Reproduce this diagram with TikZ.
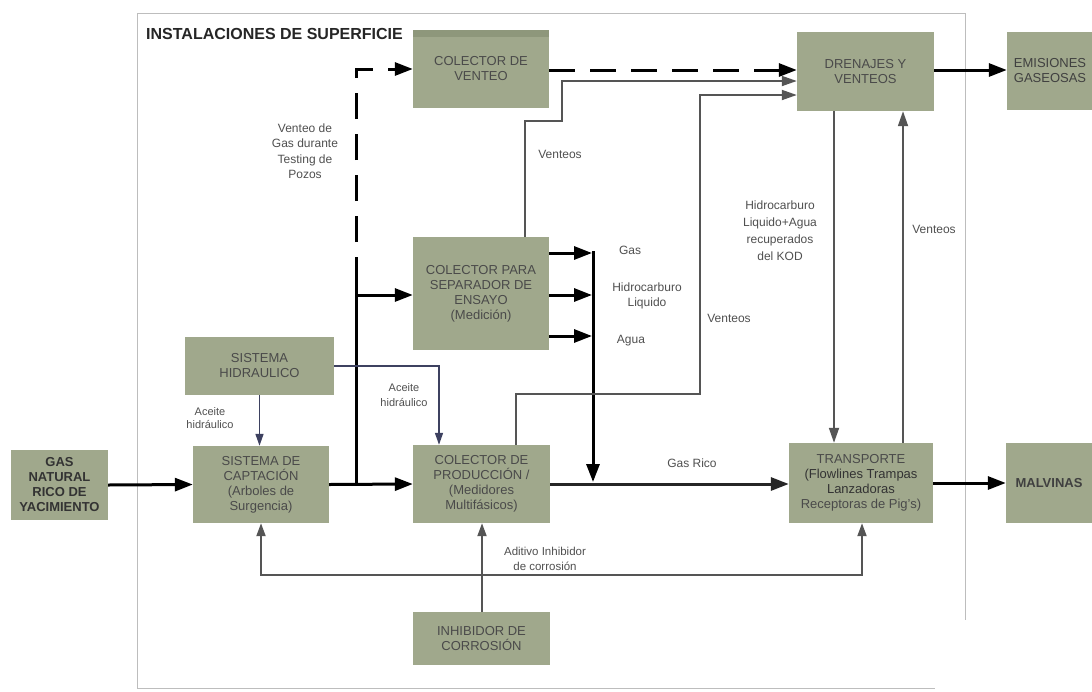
\documentclass[tikz,border=0pt]{standalone}
\usepackage{fontspec}
\setmainfont{Liberation Sans}
\usetikzlibrary{arrows.meta}
\definecolor{boxfill}{HTML}{A0A88C}
\definecolor{boxhead}{HTML}{8E977B}
\definecolor{boxtext}{HTML}{4A4A4A}
\definecolor{linegray}{HTML}{555555}
\definecolor{hydro}{HTML}{3D4160}
\definecolor{labeltext}{HTML}{505050}
\definecolor{framegray}{HTML}{BDBDBD}
\begin{document}
\begin{tikzpicture}[x=1pt,y=-1pt,
  box/.style={fill=boxfill, draw=none, inner sep=0pt, align=center, text=boxtext,
    font=\fontsize{13}{15}\selectfont},
  lbl/.style={inner sep=0pt, align=center, text=labeltext, font=\fontsize{12}{15.5}\selectfont},
  mainline/.style={line width=3pt, draw=black},
  mainflow/.style={mainline, -{Triangle[length=18pt,width=13pt]}},
  venting/.style={mainline, dash pattern=on 26pt off 15pt, -{Triangle[length=18pt,width=13pt]}},
  grayflow/.style={line width=1.8pt, draw=linegray, -{Triangle[length=15pt,width=10pt]}},
  hydroflow/.style={line width=1.5pt, draw=hydro, -{Triangle[length=12pt,width=8pt]}},
  feedflow/.style={line width=2pt, draw=linegray, -{Triangle[length=13pt,width=9pt]}}
]
\useasboundingbox (0,0) rectangle (1092,691);
\fill[white] (0,0) rectangle (1092,691);

% frame
\draw[framegray, line width=1pt] (137,688) -- (137,13) -- (965,13) -- (965,620);
\draw[framegray, line width=1pt] (137,688) -- (935,688);
\node[anchor=west, inner sep=0pt, font=\fontsize{16}{18}\bfseries\selectfont, text=black!85] (title) at (146,34) {INSTALACIONES DE SUPERFICIE};

% boxes
\node[box, minimum width=136pt, minimum height=78pt] (venteo) at (481,69) {COLECTOR DE\\VENTEO};
\fill[boxhead] (venteo.north west) rectangle ([yshift=-7pt]venteo.north east);
\node[box, minimum width=137pt, minimum height=79pt] (drenajes) at (865.5,71.5) {DRENAJES Y\\VENTEOS};
\node[box, minimum width=86pt, minimum height=78pt, text=black!75] (emisiones) at (1050,71) {EMISIONES\\GASEOSAS};
\node[box, minimum width=136pt, minimum height=113pt] (separador) at (481,293.5) {COLECTOR PARA\\SEPARADOR DE\\ENSAYO\\(Medición)};
\node[box, minimum width=149pt, minimum height=58pt] (hidraulico) at (259.5,366) {SISTEMA\\HIDRAULICO};
\node[box, minimum width=136pt, minimum height=77pt] (captacion) at (261,484.5) {SISTEMA DE\\CAPTACIÓN\\(Arboles de\\Surgencia)};
\node[box, minimum width=97pt, minimum height=70pt, text=black!80, font=\fontsize{13}{15}\bfseries\selectfont] (gasnat) at (59.5,485) {GAS\\NATURAL\\RICO DE\\YACIMIENTO};
\node[box, minimum width=137pt, minimum height=78pt] (produccion) at (481.5,484) {COLECTOR DE\\PRODUCCIÓN /\\(Medidores\\Multifásicos)};
\node[box, minimum width=137pt, minimum height=53pt] (inhibidor) at (481.5,638.5) {INHIBIDOR DE\\CORROSIÓN};
\node[box, minimum width=144pt, minimum height=80pt] (transporte) at (861,483) {TRANSPORTE\\{\color{black!80}(Flowlines Trampas}\\{\color{black!80}Lanzadoras}\\Receptoras de Pig's)};
\node[box, minimum width=86pt, minimum height=80pt, text=black!75, font=\fontsize{13}{15}\bfseries\selectfont] (malvinas) at (1049,483) {MALVINAS};

% main line gas natural -> captacion -> produccion
\draw[mainflow] (gasnat.east) -- (captacion.west);
\draw[mainflow] (captacion.east) -- (produccion.west);
\coordinate (j1) at (356,484);
\coordinate (j2) at (356,295);
\coordinate (j3) at (356,283);
\draw[mainline] (j1) -- (j3);
\draw[venting] (j3) |- (venteo.west);
\draw[mainflow] (j2) -- (separador.west |- j2);

% separator outputs
\coordinate (s1) at (592,253);
\coordinate (s2) at (592,295);
\coordinate (s3) at (592,336);
\draw[mainflow] (separador.east |- s1) -- (s1);
\draw[mainflow] (separador.east |- s2) -- (s2);
\draw[mainflow] (separador.east |- s3) -- (s3);
\coordinate (sv) at (593,251);
\coordinate (sg) at (593,482);
\draw[mainflow] (sv) -- (sg);

% gas rico
\draw[mainflow, draw=black!85] (produccion.east) -- (produccion.east -| transporte.west);

% hydraulic
\draw[hydroflow] (hidraulico.south) -- (hidraulico.south |- captacion.north);
\coordinate (h1) at (439,366);
\draw[hydroflow] (hidraulico.east |- h1) -- (h1) -- (h1 |- produccion.north);

% venting lines to drenajes
\draw[venting] (venteo.east |- 0,70) -- (drenajes.west |- 0,70);
\coordinate (v1) at (525,121);
\coordinate (v2) at (562,81);
\draw[grayflow] (v1 |- separador.north) -- (v1) -| (v2) -- (drenajes.west |- v2);
\coordinate (p1) at (516,394);
\coordinate (p2) at (700,95);
\draw[grayflow] (p1 |- produccion.north) -- (p1) -| (p2) -- (drenajes.west |- p2);

% drenajes <-> transporte
\coordinate (k1) at (834,300);
\draw[grayflow] (k1 |- drenajes.south) -- (k1 |- transporte.north);
\coordinate (k2) at (903,300);
\draw[grayflow] (k2 |- transporte.north) -- (k2 |- drenajes.south);

% outputs
\draw[mainflow] (drenajes.east |- 0,70) -- (emisiones.west |- 0,70);
\draw[mainflow] (transporte.east) -- (malvinas.west);

% corrosion inhibitor
\coordinate (c0) at (482,575);
\draw[feedflow] (inhibidor.north -| c0) -- (produccion.south -| c0);
\draw[feedflow] (c0) -| (captacion.south);
\draw[feedflow] (c0) -| ([xshift=1pt]transporte.south);

% labels
\node[lbl] (lventeo) at (305,151) {Venteo de\\Gas durante\\Testing de\\Pozos};
\node[lbl] (lv1) at (560,154) {Venteos};
\node[lbl] (lgas) at (630,250) {Gas};
\node[lbl] (lhc) at (647,296) {Hidrocarburo\\Liquido};
\node[lbl] (lagua) at (631,341) {Agua};
\node[lbl] (lv2) at (729,318) {Venteos};
\node[lbl, font=\fontsize{11}{15.5}\selectfont] (lac2) at (404,395) {Aceite\\hidráulico};
\node[lbl, font=\fontsize{11}{13}\selectfont] (lac1) at (210,418) {Aceite\\hidráulico};
\node[lbl, font=\fontsize{12}{17}\selectfont] (lkod) at (780,231) {Hidrocarburo\\Liquido+Agua\\recuperados\\del KOD};
\node[lbl] (lv3) at (934,229) {Venteos};
\node[lbl] (lrico) at (692,463) {Gas Rico};
\node[lbl, font=\fontsize{11.5}{14.5}\selectfont] (ladit) at (545,559) {Aditivo Inhibidor\\de corrosión};
\end{tikzpicture}
\end{document}
